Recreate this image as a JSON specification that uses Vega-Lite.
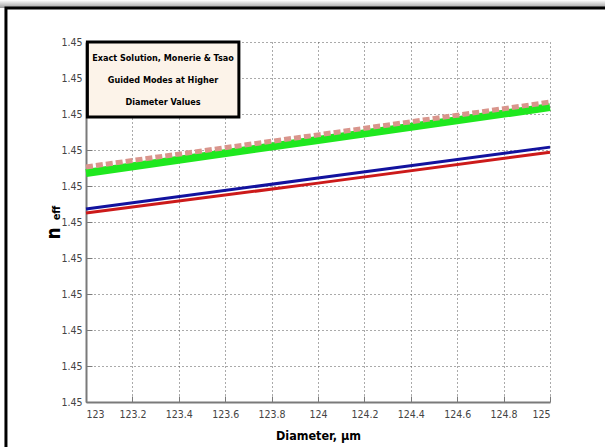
{
  "$schema": "https://vega.github.io/schema/vega-lite/v6.json",
  "width": 464,
  "height": 360,
  "autosize": {"type": "none"},
  "padding": {"left": 86, "top": 42, "right": 55, "bottom": 45},
  "background": "white",
  "config": {
    "view": {"stroke": null},
    "font": "DejaVu Sans Condensed, DejaVu Sans, sans-serif",
    "axis": {
      "domainColor": "#7a7a7a",
      "domainWidth": 2,
      "tickColor": "#7a7a7a",
      "tickWidth": 1,
      "tickSize": -6,
      "grid": true,
      "gridColor": "#555555",
      "gridDash": [1, 3],
      "gridWidth": 1,
      "labelFont": "DejaVu Sans Condensed, DejaVu Sans, sans-serif",
      "labelFontSize": 10.5,
      "labelColor": "#444444",
      "titleFont": "DejaVu Sans Condensed, DejaVu Sans, sans-serif",
      "titleFontWeight": "bold",
      "titleColor": "#000000"
    },
    "axisX": {
      "labelPadding": 13,
      "titleFontSize": 12.5,
      "titleBaseline": "middle",
      "titleY": 33
    },
    "axisY": {
      "labelPadding": 10,
      "titleFontSize": 19,
      "titleAngle": 270,
      "titleAlign": "center",
      "titleBaseline": "middle",
      "titleX": -33,
      "titleY": 191
    }
  },
  "datasets": {
    "curves": [
      {"series": "green", "d": 123, "n": 1.450636},
      {"series": "green", "d": 124, "n": 1.450728},
      {"series": "green", "d": 125, "n": 1.450819},
      {"series": "dashed", "d": 123, "n": 1.450653},
      {"series": "dashed", "d": 124, "n": 1.450742},
      {"series": "dashed", "d": 125, "n": 1.450833},
      {"series": "blue", "d": 123, "n": 1.450536},
      {"series": "blue", "d": 124, "n": 1.450622},
      {"series": "blue", "d": 125, "n": 1.450708},
      {"series": "red", "d": 123, "n": 1.450525},
      {"series": "red", "d": 124, "n": 1.450608},
      {"series": "red", "d": 125, "n": 1.450694}
    ]
  },
  "layer": [
    {
      "data": {"name": "curves"},
      "encoding": {
        "x": {
          "field": "d",
          "type": "quantitative",
          "scale": {"domain": [123, 125], "nice": false, "zero": false},
          "axis": {
            "values": [123, 123.2, 123.4, 123.6, 123.8, 124, 124.2, 124.4, 124.6, 124.8, 125],
            "format": ".1~f",
            "title": "Diameter, μm"
          }
        },
        "y": {
          "field": "n",
          "type": "quantitative",
          "scale": {"domain": [1.45, 1.451], "nice": false, "zero": false},
          "axis": {
            "values": [1.45, 1.4501, 1.4502, 1.4503, 1.4504, 1.4505, 1.4506, 1.4507, 1.4508, 1.4509, 1.451],
            "format": ".2f",
            "title": "n"
          }
        }
      },
      "layer": [
        {
          "transform": [{"filter": "datum.series === 'green'"}],
          "mark": {"type": "line", "color": "#1fe81f", "strokeWidth": 8, "clip": false}
        },
        {
          "transform": [{"filter": "datum.series === 'dashed'"}],
          "mark": {"type": "line", "color": "#d9958c", "strokeWidth": 5, "strokeDash": [7, 3], "clip": false}
        },
        {
          "transform": [{"filter": "datum.series === 'red'"}],
          "mark": {"type": "line", "color": "#cc1a1a", "strokeWidth": 3, "clip": false}
        },
        {
          "transform": [{"filter": "datum.series === 'blue'"}],
          "mark": {"type": "line", "color": "#12129e", "strokeWidth": 3, "clip": false}
        }
      ]
    },
    {
      "data": {"values": [{}]},
      "mark": {"type": "rect", "clip": false, "fill": {"gradient": "linear", "x1": 0, "y1": 0, "x2": 0, "y2": 1, "stops": [{"offset": 0, "color": "#ffffff"}, {"offset": 1, "color": "#9a9a9a"}]}},
      "encoding": {
        "x": {"datum": 122.62, "type": "quantitative", "scale": {"domain": [123, 125], "nice": false, "zero": false}, "axis": {"values": [123, 123.2, 123.4, 123.6, 123.8, 124, 124.2, 124.4, 124.6, 124.8, 125], "format": ".1~f", "title": "Diameter, μm"}},
        "x2": {"datum": 125.3},
        "y": {"datum": 1.4511167, "type": "quantitative", "scale": {"domain": [1.45, 1.451], "nice": false, "zero": false}, "axis": {"values": [1.45, 1.4501, 1.4502, 1.4503, 1.4504, 1.4505, 1.4506, 1.4507, 1.4508, 1.4509, 1.451], "format": ".2f", "title": "n"}},
        "y2": {"datum": 1.4510944}
      }
    },
    {
      "data": {"values": [{}]},
      "mark": {"type": "rect", "clip": false, "fill": "#ffffff", "fillOpacity": 0, "stroke": "#000000", "strokeWidth": 3},
      "encoding": {
        "x": {"datum": 122.655, "type": "quantitative", "scale": {"domain": [123, 125], "nice": false, "zero": false}, "axis": {"values": [123, 123.2, 123.4, 123.6, 123.8, 124, 124.2, 124.4, 124.6, 124.8, 125], "format": ".1~f", "title": "Diameter, μm"}},
        "x2": {"datum": 125.3},
        "y": {"datum": 1.4510944, "type": "quantitative", "scale": {"domain": [1.45, 1.451], "nice": false, "zero": false}, "axis": {"values": [1.45, 1.4501, 1.4502, 1.4503, 1.4504, 1.4505, 1.4506, 1.4507, 1.4508, 1.4509, 1.451], "format": ".2f", "title": "n"}},
        "y2": {"datum": 1.44985}
      }
    },
    {
      "data": {"values": [{}]},
      "mark": {"type": "rect", "clip": false, "fill": "#fcf3e9", "stroke": "#000000", "strokeWidth": 3},
      "encoding": {
        "x": {"datum": 123.006, "type": "quantitative", "scale": {"domain": [123, 125], "nice": false, "zero": false}, "axis": {"values": [123, 123.2, 123.4, 123.6, 123.8, 124, 124.2, 124.4, 124.6, 124.8, 125], "format": ".1~f", "title": "Diameter, μm"}},
        "x2": {"datum": 123.659},
        "y": {"datum": 1.4510, "type": "quantitative", "scale": {"domain": [1.45, 1.451], "nice": false, "zero": false}, "axis": {"values": [1.45, 1.4501, 1.4502, 1.4503, 1.4504, 1.4505, 1.4506, 1.4507, 1.4508, 1.4509, 1.451], "format": ".2f", "title": "n"}},
        "y2": {"datum": 1.450792}
      }
    },
    {
      "data": {"values": [{}]},
      "mark": {
        "type": "text",
        "clip": false,
        "text": ["Exact Solution, Monerie & Tsao", "Guided Modes at Higher", "Diameter Values"],
        "fontWeight": "bold",
        "fontSize": 9,
        "lineHeight": 22,
        "align": "center",
        "baseline": "middle",
        "color": "#000000"
      },
      "encoding": {
        "x": {"datum": 123.332, "type": "quantitative", "scale": {"domain": [123, 125], "nice": false, "zero": false}, "axis": {"values": [123, 123.2, 123.4, 123.6, 123.8, 124, 124.2, 124.4, 124.6, 124.8, 125], "format": ".1~f", "title": "Diameter, μm"}},
        "y": {"datum": 1.450956, "type": "quantitative", "scale": {"domain": [1.45, 1.451], "nice": false, "zero": false}, "axis": {"values": [1.45, 1.4501, 1.4502, 1.4503, 1.4504, 1.4505, 1.4506, 1.4507, 1.4508, 1.4509, 1.451], "format": ".2f", "title": "n"}}
      }
    },
    {
      "data": {"values": [{}]},
      "mark": {
        "type": "text",
        "clip": false,
        "text": "eff",
        "fontWeight": "bold",
        "fontSize": 11,
        "angle": 270,
        "align": "center",
        "baseline": "middle",
        "color": "#000000"
      },
      "encoding": {
        "x": {"datum": 122.876, "type": "quantitative", "scale": {"domain": [123, 125], "nice": false, "zero": false}, "axis": {"values": [123, 123.2, 123.4, 123.6, 123.8, 124, 124.2, 124.4, 124.6, 124.8, 125], "format": ".1~f", "title": "Diameter, μm"}},
        "y": {"datum": 1.450525, "type": "quantitative", "scale": {"domain": [1.45, 1.451], "nice": false, "zero": false}, "axis": {"values": [1.45, 1.4501, 1.4502, 1.4503, 1.4504, 1.4505, 1.4506, 1.4507, 1.4508, 1.4509, 1.451], "format": ".2f", "title": "n"}}
      }
    }
  ]
}
